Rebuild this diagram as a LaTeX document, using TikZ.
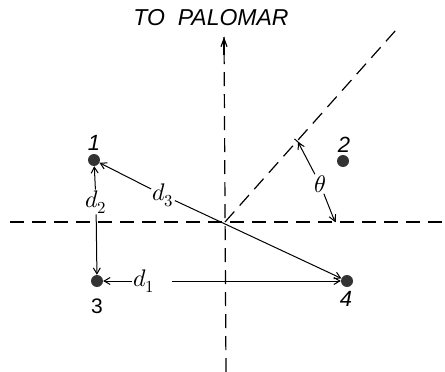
\documentclass[tikz,border=0pt]{standalone}
\usepackage{fontspec}
\usepackage{unicode-math}
\setmainfont{Liberation Sans}
\setmathfont{Latin Modern Math}
\usetikzlibrary{arrows.meta,calc}
\begin{document}
\begin{tikzpicture}[x=1pt,y=-1pt,
  axis/.style={line width=1.2pt,dash pattern=on 14pt off 8pt},
  arr/.style={line width=1pt,-{Straight Barb[length=6pt,width=7pt,line width=1pt]}},
  dot/.style={circle,fill=black!80,inner sep=0pt,minimum size=12pt},
  num/.style={font=\fontsize{22}{22}\selectfont\itshape,inner sep=1pt},
  dl/.style={font=\fontsize{24}{24}\selectfont,inner sep=1pt}]
\useasboundingbox (0,0) rectangle (445,372);
% title
\node[font=\fontsize{23}{23}\selectfont\itshape] (title) at (211,18) {TO\ \ PALOMAR};
% axes
\coordinate (O) at (225,222);
\coordinate (hl) at (10,222);
\coordinate (hr) at (445,222);
\coordinate (vt) at (224,37);
\coordinate (vb) at (226,372);
\coordinate (dg) at (396,30);
\draw[axis] (hl) -- (hr);
\draw[axis] (vb) -- (vt);
\draw[line width=1.2pt,-{Straight Barb[length=8pt,width=6pt,line width=1.2pt]}] (224,55) -- (vt);
\draw[axis] (O) -- (dg);
% points
\node[dot] (p1) at (94,160) {};
\node[dot] (p2) at (343,161) {};
\node[dot] (p3) at (97,281) {};
\node[dot] (p4) at (347,281) {};
\node[num] (l1) at (94,143) {1};
\node[num] (l2) at (344,145) {2};
\node[font=\fontsize{21}{21}\selectfont,inner sep=1pt] (l3) at (97,306) {3};
\node[num] (l4) at (346,299) {4};
% distances
\node[dl] (d3) at (163,195) {$d_3$};
\draw[arr] (d3) -- (p1);
\draw[arr] (d3) -- (p4);
\node[dl] (d2) at (96,202) {$d_2$};
\draw[arr] (d2) -- (p1);
\draw[arr] (d2) -- (p3);
\node[dl] (d1) at (144,281) {$d_1$};
\coordinate (d1r) at (172,281);
\draw[arr] (d1) -- (p3);
\draw[arr] (d1r) -- (p4);
% theta
\node[dl] (th) at (320,184) {$\theta$};
\coordinate (t1) at (298,142);
\coordinate (t2) at (335,222);
\draw[line width=1pt] ($(t1)+(-3.5,-3.1)$) -- ($(t1)+(3.5,3.1)$);
\draw[line width=1pt] (t2) -- ++(0,-7);
\draw[arr] (th) -- (t1);
\draw[arr] (th) -- (t2);
\end{tikzpicture}
\end{document}
